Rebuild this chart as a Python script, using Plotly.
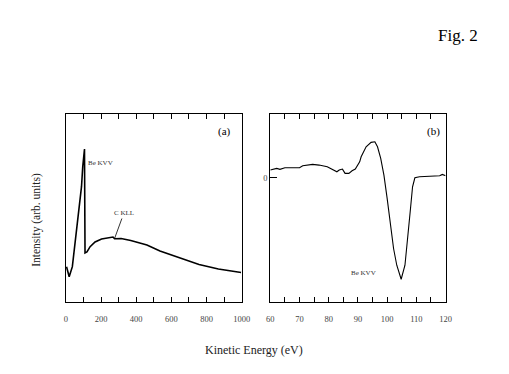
import plotly.graph_objects as go

# Panel (a): wide-range spectrum
energy_a = [4, 19, 37, 55, 74, 89, 96, 102, 106, 109, 120, 138, 166, 203, 240, 268,
            277, 292, 314, 369, 461, 535, 646, 757, 867, 996]
intensity_a = [35.3, 25.3, 35.3, 62, 89, 115.3, 135.3, 152, 153, 49, 50, 55.3, 60, 63,
               64.5, 65, 63.2, 63.5, 63.5, 61.5, 57, 51, 44, 37.5, 33, 29.5]

# Panel (b): Be KVV derivative spectrum
energy_b = [60, 62.2, 63.3, 65, 70, 71.1, 74.5, 76.7, 79.5, 81.1, 82.8, 83.6, 84.7, 85.6,
            86.9, 88, 89.1, 90.6, 91.1, 92.8, 94.5, 95.8, 96.7, 97.8, 98.9, 100, 101.1,
            102.2, 103.3, 104.8, 106.1, 107.2, 108, 108.7, 109.5, 111.1, 115.6, 118,
            118.9, 120]
intensity_b = [7.7, 9.4, 8.4, 10, 10, 12, 13.4, 12.7, 11, 8.7, 6, 7.7, 8.7, 4.4,
               4.4, 7, 8.7, 16, 21, 31, 35.4, 36, 31, 19.4, 2.7, -20.6, -47.3,
               -70.6, -87.3, -101.3, -87.3, -57.3, -30.6, -9, 0, 1, 1.7, 2,
               3.4, 2]

ticks_a = list(range(0, 1001, 100))
ticklabels_a = [str(v) if v % 200 == 0 else "" for v in ticks_a]
ticks_b = list(range(60, 121, 5))
ticklabels_b = [str(v) if v % 10 == 0 else "" for v in ticks_b]

OFF = 8  # page body margin
W, H = 509 - 2 * OFF, 374 - 2 * OFF
fx = lambda px: (px - OFF) / W
fy = lambda py: 1 - (py - OFF) / H

fig = go.Figure()
fig.add_trace(go.Scatter(x=energy_a, y=intensity_a, mode="lines",
                         line=dict(color="black", width=1.6), xaxis="x", yaxis="y",
                         showlegend=False))
fig.add_trace(go.Scatter(x=energy_b, y=intensity_b, mode="lines",
                         line=dict(color="black", width=1.1), xaxis="x2", yaxis="y2",
                         showlegend=False))

tickfont = dict(family="Liberation Serif", size=8.5, color="#444")
common_x = dict(showline=True, linecolor="black", linewidth=1, mirror="ticks",
                ticks="inside", ticklen=5, tickcolor="black", showgrid=False,
                zeroline=False, tickfont=tickfont, ticklabelstandoff=9)

fig.update_layout(
    width=W, height=H,
    margin=dict(l=0, r=0, t=0, b=0),
    paper_bgcolor="white", plot_bgcolor="white",
    xaxis=dict(domain=[fx(63.3), fx(244)], range=[0, 1000], tickvals=ticks_a,
               ticktext=ticklabels_a, anchor="y", **common_x),
    yaxis=dict(domain=[fy(302), fy(114)], range=[0, 188], showticklabels=False,
               ticks="", showline=True, linecolor="black", linewidth=1, mirror=True,
               showgrid=False, zeroline=False, anchor="x"),
    xaxis2=dict(domain=[fx(273.3), fx(453.3)], range=[60, 120], tickvals=ticks_b,
                ticktext=ticklabels_b, anchor="y2", **common_x),
    yaxis2=dict(domain=[fy(302), fy(114)], range=[-124, 63.7], tickvals=[0],
                ticktext=["0"], ticks="inside", ticklen=7, tickcolor="black",
                tickfont=tickfont, showline=True, linecolor="black", linewidth=1,
                mirror=True, showgrid=False, zeroline=False, anchor="x2"),
)

serif = "Liberation Serif"


def label(text, px, py, size, color="black", **kw):
    return dict(text=text, x=fx(px), y=fy(py), xref="paper", yref="paper",
                xanchor="center", yanchor="middle", showarrow=False,
                font=dict(family=serif, size=size, color=color), **kw)


annotations = [
    label("Fig. 2", 466, 35, 17),
    label("Intensity (arb. units)", 32.5, 220, 11.5, "#222", textangle=-90),
    label("Kinetic Energy (eV)", 257, 350, 12, "#222"),
    label("(a)", 226, 132, 11),
    label("(b)", 441, 132, 11),
    label("Be KVV", 99, 163, 7, "#333"),
    label("Be KVV", 369, 273, 7, "#333"),
    dict(text="C KLL", x=277, y=63.5, xref="x", yref="y", ax=330, ay=89,
         axref="x", ayref="y", showarrow=True, arrowhead=0, arrowwidth=0.8,
         arrowcolor="black", font=dict(family=serif, size=7, color="#333")),
]
fig.update_layout(annotations=annotations)

fig.write_html("out.html")
